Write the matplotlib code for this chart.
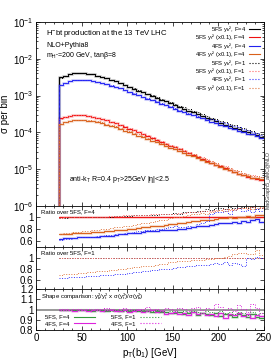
import numpy as np
import matplotlib
matplotlib.use("Agg")
import matplotlib.pyplot as plt
from matplotlib.lines import Line2D

plt.rcParams['font.family'] = ['Liberation Sans', 'DejaVu Sans']
plt.rcParams['mathtext.fontset'] = 'custom'
plt.rcParams['mathtext.rm'] = 'Liberation Sans'
plt.rcParams['mathtext.it'] = 'Liberation Sans:italic'
plt.rcParams['mathtext.bf'] = 'Liberation Sans:bold'

# ---------------- data ----------------
bin_edges = np.arange(25, 255, 5)  # pT(b1) bin edges [GeV]

# main panel: 5FS, F=4 distributions (sigma per bin)
sig_5fs_yb2_F4 = [3.1e-3, 3.5e-3, 3.8e-3, 4.0e-3, 4.1e-3, 4.05e-3, 3.95e-3, 3.75e-3, 3.5e-3, 3.25e-3,
                  2.95e-3, 2.7e-3, 2.45e-3, 2.2e-3, 1.95e-3, 1.7e-3, 1.52e-3, 1.36e-3, 1.21e-3, 1.08e-3,
                  9.7e-4, 8.65e-4, 7.7e-4, 6.9e-4, 6.15e-4, 5.5e-4, 4.9e-4, 4.4e-4, 3.9e-4, 3.5e-4,
                  3.15e-4, 2.8e-4, 2.5e-4, 2.25e-4, 2.0e-4, 1.8e-4, 1.63e-4, 1.48e-4, 1.34e-4, 1.22e-4,
                  1.11e-4, 1.01e-4, 9.2e-5, 8.4e-5, 7.7e-5]
sig_5fs_yt2_F4 = [2.4e-4, 2.65e-4, 2.8e-4, 2.9e-4, 2.92e-4, 2.88e-4, 2.8e-4, 2.65e-4, 2.5e-4, 2.32e-4,
                  2.12e-4, 1.93e-4, 1.75e-4, 1.57e-4, 1.41e-4, 1.27e-4, 1.13e-4, 1.0e-4, 8.9e-5, 7.9e-5,
                  7.0e-5, 6.2e-5, 5.5e-5, 4.9e-5, 4.35e-5, 3.9e-5, 3.45e-5, 3.05e-5, 2.7e-5, 2.4e-5,
                  2.13e-5, 1.9e-5, 1.68e-5, 1.5e-5, 1.33e-5, 1.18e-5, 1.05e-5, 9.4e-6, 8.4e-6, 7.5e-6,
                  6.8e-6, 6.2e-6, 5.8e-6, 5.5e-6, 5.2e-6]

# ratio over 5FS, F=4
r_5fs_yb2_F1 = [0.99, 0.99, 1.0, 1.0, 1.0, 1.0, 1.0, 1.01, 1.0, 1.01,
                1.01, 1.01, 1.02, 1.02, 1.02, 1.02, 1.03, 1.03, 1.03, 1.04,
                1.04, 1.04, 1.05, 1.05, 1.06, 1.07, 1.06, 1.08, 1.08, 1.09,
                1.10, 1.11, 1.13, 1.12, 1.16, 1.15, 1.14, 1.17, 1.16, 1.15,
                1.18, 1.15, 1.17, 1.14, 1.16]
r_5fs_yt2_F1 = [0.99, 1.0, 1.0, 1.0, 1.0, 1.0, 1.01, 1.0, 1.01, 1.01,
                1.01, 1.02, 1.02, 1.02, 1.03, 1.03, 1.03, 1.04, 1.04, 1.04,
                1.05, 1.05, 1.05, 1.06, 1.06, 1.06, 1.07, 1.07, 1.08, 1.08,
                1.09, 1.10, 1.10, 1.11, 1.12, 1.12, 1.13, 1.12, 1.14, 1.15,
                1.16, 1.14, 1.17, 1.15, 1.16]
r_4fs_yb2_F4 = [0.64, 0.645, 0.65, 0.655, 0.66, 0.66, 0.665, 0.67, 0.675, 0.68,
                0.69, 0.69, 0.70, 0.71, 0.72, 0.73, 0.73, 0.74, 0.75, 0.76,
                0.77, 0.77, 0.78, 0.79, 0.79, 0.79, 0.80, 0.81, 0.82, 0.83,
                0.85, 0.86, 0.86, 0.87, 0.88, 0.90, 0.90, 0.91, 0.92, 0.91,
                0.93, 0.92, 0.95, 0.97, 0.92]
r_4fs_yt2_F4 = [0.72, 0.72, 0.725, 0.73, 0.73, 0.735, 0.74, 0.745, 0.75, 0.755,
                0.76, 0.77, 0.78, 0.78, 0.79, 0.80, 0.81, 0.82, 0.83, 0.84,
                0.85, 0.86, 0.86, 0.87, 0.88, 0.89, 0.90, 0.91, 0.92, 0.93,
                0.94, 0.95, 0.95, 0.96, 0.97, 0.98, 0.98, 1.0, 0.99, 1.0,
                1.0, 1.02, 1.0, 1.03, 1.04]
r_4fs_yb2_F1 = [0.62, 0.63, 0.64, 0.65, 0.66, 0.66, 0.67, 0.67, 0.68, 0.69,
                0.70, 0.70, 0.71, 0.72, 0.73, 0.74, 0.75, 0.76, 0.77, 0.78,
                0.79, 0.80, 0.81, 0.82, 0.84, 0.86, 0.84, 0.83, 0.85, 0.84,
                0.88, 0.90, 0.93, 1.05, 1.08, 1.08, 1.10, 1.06, 1.12, 1.15,
                1.10, 1.12, 1.08, 1.14, 1.10]
r_4fs_yt2_F1 = [0.72, 0.73, 0.74, 0.745, 0.75, 0.76, 0.77, 0.78, 0.79, 0.80,
                0.81, 0.82, 0.83, 0.84, 0.85, 0.86, 0.87, 0.88, 0.90, 0.91,
                0.92, 0.93, 0.95, 0.96, 0.98, 1.0, 1.01, 1.02, 1.03, 1.05,
                1.06, 1.07, 1.06, 1.08, 1.10, 1.12, 1.10, 1.13, 1.12, 1.15,
                1.16, 1.18, 1.14, 1.19, 1.17]

# ratio over 5FS, F=1
q_4fs_yt2_F1 = [0.70, 0.71, 0.72, 0.72, 0.73, 0.73, 0.74, 0.75, 0.76, 0.76,
                0.77, 0.78, 0.79, 0.80, 0.81, 0.82, 0.83, 0.84, 0.85, 0.85,
                0.86, 0.87, 0.89, 0.90, 0.92, 0.93, 0.94, 0.95, 0.95, 0.96,
                0.97, 0.97, 0.98, 0.99, 1.0, 1.0, 1.02, 1.04, 1.08, 1.10,
                1.10, 1.07, 1.08, 1.15, 1.06]
q_4fs_yb2_F1 = [0.64, 0.645, 0.65, 0.655, 0.66, 0.66, 0.67, 0.67, 0.68, 0.69,
                0.69, 0.70, 0.71, 0.72, 0.72, 0.73, 0.74, 0.75, 0.76, 0.76,
                0.78, 0.79, 0.80, 0.81, 0.81, 0.82, 0.84, 0.83, 0.85, 0.86,
                0.87, 0.88, 0.87, 0.90, 0.91, 0.90, 0.92, 0.88, 0.91, 0.89,
                0.86, 1.0, 0.99, 1.01, 1.0]

# shape comparison
s_5fs_F4 = [1.0, 1.0, 1.0, 1.0, 1.0, 1.0, 1.0, 0.99, 1.0, 1.0,
            0.99, 1.0, 1.0, 0.99, 1.0, 0.99, 1.0, 0.99, 0.99, 0.99,
            0.98, 0.99, 0.98, 0.98, 0.97, 0.97, 0.98, 0.96, 0.97, 0.98,
            0.95, 0.97, 0.96, 0.95, 0.97, 0.94, 0.96, 0.95, 0.93, 0.96,
            0.95, 0.93, 0.96, 0.93, 0.92]
s_4fs_F4 = [1.0, 1.0, 1.0, 0.99, 1.0, 1.0, 0.99, 1.0, 1.0, 0.99,
            1.0, 1.0, 0.99, 0.99, 1.0, 0.98, 0.99, 1.0, 0.98, 0.99,
            1.0, 0.98, 0.99, 0.96, 0.97, 0.98, 0.96, 0.97, 0.95, 0.98,
            0.96, 0.97, 0.95, 0.96, 0.94, 0.97, 0.92, 0.96, 0.95, 0.97,
            0.94, 0.96, 0.92, 0.95, 0.94]
s_5fs_F1 = [1.0, 1.0, 1.0, 1.0, 1.0, 1.0, 1.0, 1.0, 1.0, 1.0,
            1.0, 0.99, 1.0, 1.0, 0.99, 1.0, 1.0, 0.99, 1.0, 0.99,
            0.99, 1.0, 0.99, 0.98, 0.99, 0.99, 0.98, 0.99, 0.98, 0.99,
            0.98, 0.97, 0.99, 0.98, 0.97, 0.99, 0.97, 0.98, 0.96, 0.98,
            0.97, 0.95, 0.98, 0.96, 0.97]
s_4fs_F1 = [1.01, 1.01, 1.0, 1.01, 1.01, 1.0, 1.01, 1.0, 1.01, 1.01,
            1.02, 1.01, 1.0, 1.01, 1.02, 1.01, 1.0, 1.01, 1.01, 1.03,
            1.0, 1.01, 1.0, 1.02, 1.01, 1.0, 1.02, 1.01, 0.99, 1.02,
            1.03, 1.0, 1.02, 1.01, 1.05, 1.03, 1.0, 1.02, 0.99, 1.04,
            1.01, 0.98, 1.05, 1.02, 0.97]

legend_labels = [r"5FS y$_{\mathrm{b}}$², F=4", r"5FS y$_{\mathrm{t}}$² (x0.1), F=4",
                 r"4FS y$_{\mathrm{b}}$², F=4", r"4FS y$_{\mathrm{t}}$² (x0.1), F=4",
                 r"5FS y$_{\mathrm{b}}$², F=1", r"5FS y$_{\mathrm{t}}$² (x0.1), F=1",
                 r"4FS y$_{\mathrm{b}}$², F=1", r"4FS y$_{\mathrm{t}}$² (x0.1), F=1"]
shape_labels = ["5FS, F=4", "4FS, F=4", "5FS, F=1", "4FS, F=1"]
xticks = [0, 50, 100, 150, 200, 250]
main_yticks = [1e-6, 1e-5, 1e-4, 1e-3, 1e-2, 1e-1]
main_yticklabels = [r"10$^{-6}$", r"10$^{-5}$", r"10$^{-4}$", r"10$^{-3}$", r"10$^{-2}$", r"10$^{-1}$"]
ratio_yticks = [0.6, 0.8, 1.0]
ratio_yticklabels = ["0.6", "0.8", "1"]
shape_yticks = [0.8, 0.9, 1.0, 1.1, 1.2]
shape_yticklabels = ["0.8", "0.9", "1", "1.1", "1.2"]

# ---------------- derived ----------------
ref_b = np.array(sig_5fs_yb2_F4)
ref_t = np.array(sig_5fs_yt2_F4)
main_series = [
    (ref_b, 'k', '-'),
    (ref_t, '#ee1111', '-'),
    (ref_b * np.array(r_4fs_yb2_F4), '#2222ee', '-'),
    (ref_t * np.array(r_4fs_yt2_F4), '#d9601a', '-'),
    (ref_b * np.array(r_5fs_yb2_F1), 'k', ':'),
    (ref_t * np.array(r_5fs_yt2_F1), '#ff6666', ':'),
    (ref_b * np.array(r_4fs_yb2_F1), '#3333ff', ':'),
    (ref_t * np.array(r_4fs_yt2_F1), '#e07840', ':'),
]

# ---------------- figure ----------------
FW, FH = 277, 360
fig = plt.figure(figsize=(FW / 100, FH / 100), dpi=100)
L, W = 0.130, 0.823
ax0 = fig.add_axes([L, 0.428, W, 0.511])
ax1 = fig.add_axes([L, 0.314, W, 0.114])
ax2 = fig.add_axes([L, 0.197, W, 0.117])
ax3 = fig.add_axes([L, 0.083, W, 0.114])


def hstep(ax, vals, color, ls, lw=0.7, floor=None, band=True):
    vals = np.asarray(vals, dtype=float)
    if floor is not None:
        xs = np.concatenate([[bin_edges[0]], bin_edges])
        ys = np.concatenate([[floor], vals, [vals[-1]]])
    else:
        xs = bin_edges
        ys = np.concatenate([vals, [vals[-1]]])
    if band and ls == '-':
        ax.step(xs, ys, where='post', color=color, lw=2.2, alpha=0.22, solid_capstyle='butt')
    return ax.step(xs, ys, where='post', color=color, ls=ls, lw=lw)[0]


def legend_entry(ax, x_text, x0, x1, y, label, color, ls, fs):
    ax.text(x_text, y, label, transform=ax.transAxes, ha='right', va='center', fontsize=fs)
    ax.add_line(Line2D([x0, x1], [y, y], transform=ax.transAxes, color=color, ls=ls, lw=0.8))


for (vals, c, ls) in main_series:
    hstep(ax0, vals, c, ls, floor=1e-7)

ax0.set_yscale('log')
ax0.set_ylim(1e-6, 1e-1)
ax0.set_yticks(main_yticks)
ax0.set_yticklabels(main_yticklabels)
ax0.set_ylabel("σ per bin", fontsize=7, labelpad=2)

# ---- main legend (gnuplot style), drawn as one multi-line text block ----
LEG_FS = 4.2
ROW0, ROW_DY = 29.0, 8.4          # px from top of the figure
renderer = fig.canvas.get_renderer()
joined = "\n".join(legend_labels)


def block_height(text, ls):
    t = fig.text(0, 0, text, fontsize=LEG_FS, linespacing=ls)
    h = t.get_window_extent(renderer).height
    t.remove()
    return h


h1 = block_height(legend_labels[0], 1.0)
s1 = (block_height(joined, 1.0) - h1) / 7.0
s2 = (block_height(joined, 2.0) - h1) / 7.0
slope = s2 - s1
lsp = 1.0 + (ROW_DY - s1) / slope if slope > 0 else 1.2
fig.text(246 / FW, 1 - (ROW0 - h1 / 2) / FH, joined, fontsize=LEG_FS, linespacing=lsp,
         ha='right', va='top', multialignment='right')
for i, (vals, c, ls) in enumerate(main_series):
    yy = 1 - (ROW0 + ROW_DY * i) / FH
    fig.add_artist(Line2D([249 / FW, 260 / FW], [yy, yy], transform=fig.transFigure,
                          color=c, ls=ls, lw=0.8))

ax0.text(0.045, 0.935, r"H$^{-}$bt production at the 13 TeV LHC", transform=ax0.transAxes,
         fontsize=5.6, va='center', ha='left')
ax0.text(0.045, 0.87, "NLO+Pythia8", transform=ax0.transAxes, fontsize=5.0, va='center')
ax0.text(0.045, 0.82, r"m$_{\mathrm{H}^{-}}$=200 GeV, tanβ=8", transform=ax0.transAxes,
         fontsize=5.0, va='center')
ax0.text(0.145, 0.142, r"anti-k$_{\mathrm{T}}$ R=0.4 p$_{\mathrm{T}}$>25GeV |η|<2.5",
         transform=ax0.transAxes, fontsize=5.0, va='center')
fig.text(0.968, 0.50, "MadGraph5_aMC@NLO", rotation=90, fontsize=3.8, va='center', ha='center',
         color='#333333')

# ratio over 5FS F=4
hstep(ax1, np.array(sig_5fs_yt2_F4) / ref_t, '#ee1111', '-')
hstep(ax1, r_4fs_yb2_F4, '#2222ee', '-')
hstep(ax1, r_4fs_yt2_F4, '#d9601a', '-')
hstep(ax1, r_5fs_yb2_F1, 'k', ':')
hstep(ax1, r_5fs_yt2_F1, '#ff6666', ':')
hstep(ax1, r_4fs_yb2_F1, '#3333ff', ':')
hstep(ax1, r_4fs_yt2_F1, '#e07840', ':')
ax1.set_ylim(0.5, 1.19)
ax1.set_yticks(ratio_yticks)
ax1.set_yticklabels(ratio_yticklabels)
ax1.text(0.02, 0.86, "Ratio over 5FS, F=4", transform=ax1.transAxes, fontsize=4.3, va='center')

# ratio over 5FS F=1
hstep(ax2, np.array(r_5fs_yb2_F1) / np.array(r_5fs_yb2_F1), 'k', ':')
hstep(ax2, np.array(r_5fs_yt2_F1) / np.array(r_5fs_yt2_F1), '#ff6666', ':')
hstep(ax2, q_4fs_yt2_F1, '#e07840', ':')
hstep(ax2, q_4fs_yb2_F1, '#3333ff', ':')
ax2.set_ylim(0.44, 1.2)
ax2.set_yticks(ratio_yticks)
ax2.set_yticklabels(ratio_yticklabels)
ax2.text(0.02, 0.86, "Ratio over 5FS, F=1", transform=ax2.transAxes, fontsize=4.3, va='center')

# shape comparison
ax3.axhline(1.0, color='#999999', lw=1.4)
shape_series = [(s_5fs_F4, '#33993a', '-'), (s_4fs_F4, '#dd22dd', '-'),
                (s_5fs_F1, '#33993a', ':'), (s_4fs_F1, '#dd22dd', ':')]
for vals, c, ls in shape_series:
    hstep(ax3, vals, c, ls)
ax3.set_ylim(0.8, 1.2)
ax3.set_yticks(shape_yticks)
ax3.set_yticklabels(shape_yticklabels)
ax3.text(0.02, 0.82, r"Shape comparison: y$_{\mathrm{b}}^{2}$/y$_{\mathrm{t}}^{2}$ x σ(y$_{\mathrm{t}}^{2}$)/σ(y$_{\mathrm{b}}^{2}$)",
         transform=ax3.transAxes, fontsize=4.3, va='center')
# shape legend: two columns
for j, ((vals, c, ls), lab) in enumerate(zip(shape_series, shape_labels)):
    col, row = divmod(j, 2)
    y = (41 - (28 + 6.2 * row)) / 41.0
    xt = 0.145 + col * 0.29
    legend_entry(ax3, xt, xt + 0.02, xt + 0.115, y, lab, c, ls, 4.2)
ax3.set_xlabel(r"p$_{\mathrm{T}}$(b$_{1}$) [GeV]", fontsize=7, labelpad=2)

for ax in (ax0, ax1, ax2, ax3):
    ax.set_xlim(0, 250)
    ax.set_xticks(xticks)
    ax.set_xticks(np.arange(0, 251, 10), minor=True)
    ax.tick_params(which='both', direction='in', top=True, right=True, labelsize=7, width=0.5, pad=2)
    ax.tick_params(which='major', length=3)
    ax.tick_params(which='minor', length=1.5)
    for s in ax.spines.values():
        s.set_linewidth(0.6)
    if ax is not ax3:
        ax.tick_params(labelbottom=False)
for ax in (ax1, ax2, ax3):
    ax.tick_params(axis='y', which='minor', left=False, right=False)
ax0.tick_params(axis='y', which='minor', length=1.5)

fig.savefig("out.png", dpi=100)
